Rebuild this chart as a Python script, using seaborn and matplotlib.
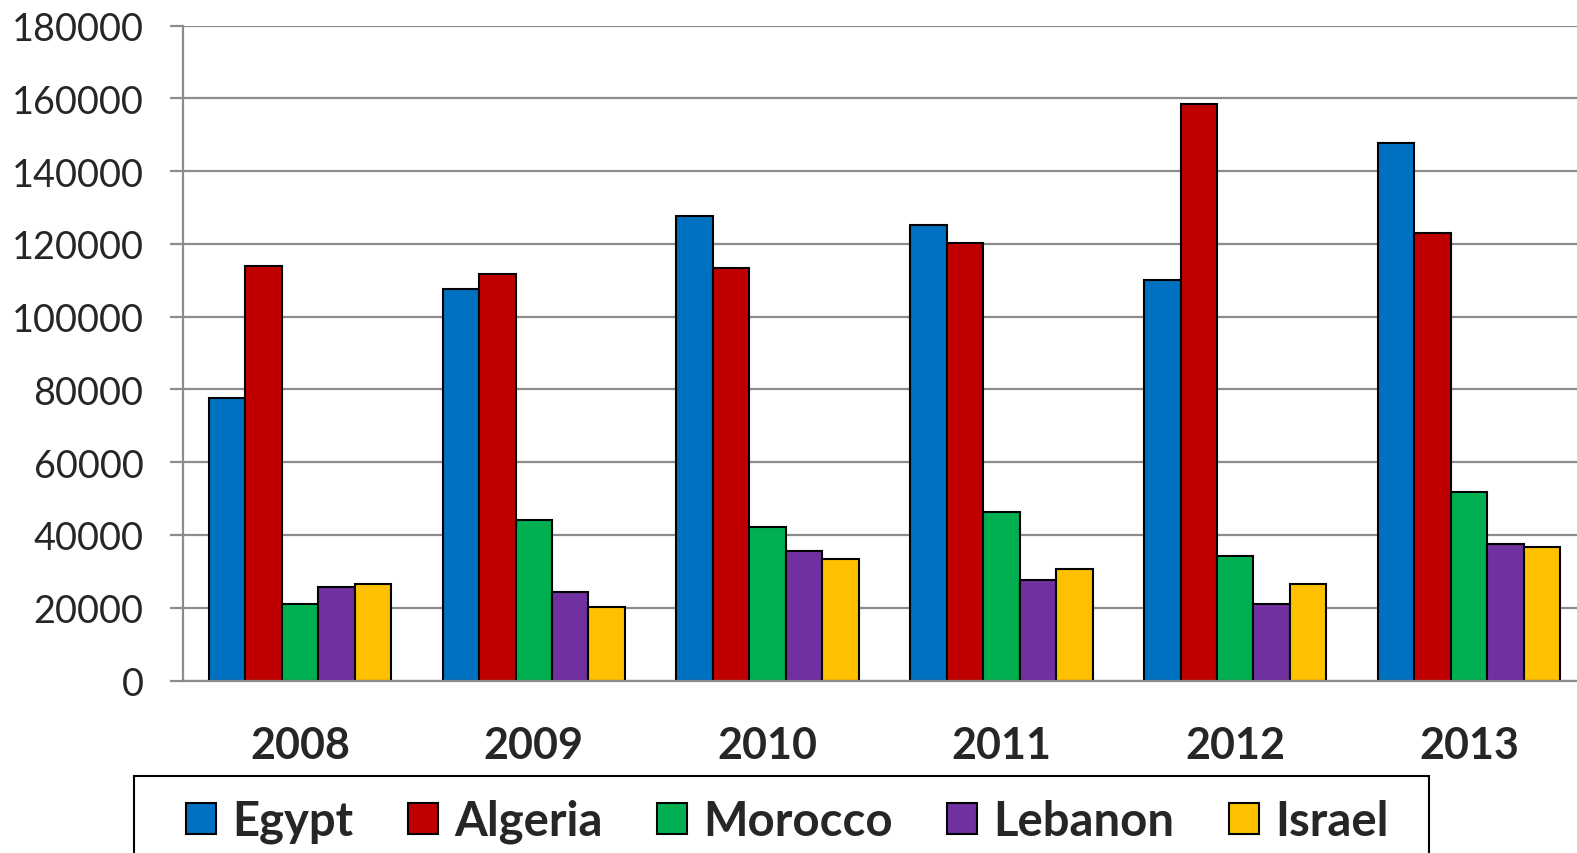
#!/usr/bin/env python3
# -*- coding: utf-8 -*-
"""
Grouped bar chart of yearly values for five countries, 2008-2013.
"""

import pandas as pd
import matplotlib.pyplot as plt
import seaborn as sns
from matplotlib.patches import Rectangle

# Chart data
years = ['2008', '2009', '2010', '2011', '2012', '2013']
countries = ['Egypt', 'Algeria', 'Morocco', 'Lebanon', 'Israel']
egypt = [77500, 107700, 127700, 125200, 110000, 147800]
algeria = [113800, 111800, 113300, 120100, 158500, 122900]
morocco = [20900, 44200, 42200, 46300, 34100, 51800]
lebanon = [25600, 24300, 35500, 27500, 21100, 37500]
israel = [26600, 20300, 33300, 30600, 26400, 36700]
colors = ['#0070C0', '#C00000', '#00B050', '#7030A0', '#FFC000']
y_ticks = [0, 20000, 40000, 60000, 80000, 100000, 120000, 140000, 160000, 180000]


def plot_grouped_bars() -> None:
    """
    Draws the grouped bar chart and saves it as out.png.
    """
    # Build a long-form table for seaborn
    series = [egypt, algeria, morocco, lebanon, israel]
    rows = []
    for country, values in zip(countries, series):
        for year, value in zip(years, values):
            rows.append({'year': year, 'country': country, 'value': value})
    df = pd.DataFrame(rows)

    sns.set_style('white')
    plt.rcParams['font.family'] = ['Lato', 'DejaVu Sans']

    W, H = 1577, 854
    fig = plt.figure(figsize=(W / 100, H / 100), dpi=100)
    # plot area runs slightly past the right edge of the figure
    ax = fig.add_axes([183 / W, 1 - 681.5 / H, 1403 / W, (681.5 - 26.5) / H])

    sns.barplot(data=df, x='year', y='value', hue='country', order=years,
                hue_order=countries, palette=colors, saturation=1,
                width=0.78, edgecolor='black', linewidth=1.5, ax=ax,
                errorbar=None)

    grey = '#8c8c8c'

    # Axis limits, grid and spines
    ax.set_xlim(-0.5, len(years) - 0.5)
    ax.set_ylim(0, 180000)
    ax.set_yticks(y_ticks)
    ax.yaxis.grid(True, color=grey, linewidth=1.6)
    ax.set_axisbelow(True)
    for side in ['top', 'right']:
        ax.spines[side].set_visible(False)
    for side in ['left', 'bottom']:
        ax.spines[side].set_color(grey)
        ax.spines[side].set_linewidth(1.6)

    # Ticks: category boundaries as minor ticks, labels centred
    ax.set_xticks([i - 0.5 for i in range(len(years) + 1)], minor=True)
    ax.tick_params(axis='x', which='minor', length=11, width=1.6,
                   color=grey, direction='out')
    ax.tick_params(axis='x', which='major', length=0, pad=32, labelsize=31)
    ax.tick_params(axis='y', length=9.5, width=1.6, color=grey,
                   direction='out', pad=19, labelsize=27.3, left=True)
    for label in ax.get_xticklabels():
        label.set_fontweight('bold')

    ax.set_xlabel('')
    ax.set_ylabel('')

    # Legend box under the plot (frame drawn separately, cut by the edge)
    fig.patches.append(Rectangle((134 / W, -0.05), 1295 / W, 0.05 + 77 / H,
                                 transform=fig.transFigure, fill=False,
                                 edgecolor='black', linewidth=1.5))
    handles, labels = ax.get_legend_handles_labels()
    ax.get_legend().remove()
    leg = fig.legend(handles, labels, loc='upper left', ncol=5,
                     bbox_to_anchor=(186 / W, 1 - 800 / H),
                     prop={'size': 34, 'weight': 'bold'},
                     handlelength=0.64, handleheight=0.64,
                     handletextpad=0.34, columnspacing=1.15,
                     borderpad=0, borderaxespad=0, frameon=False)
    for patch in leg.get_patches():
        patch.set_edgecolor('black')
        patch.set_linewidth(1.5)

    fig.savefig('out.png', dpi=100)


plot_grouped_bars()
